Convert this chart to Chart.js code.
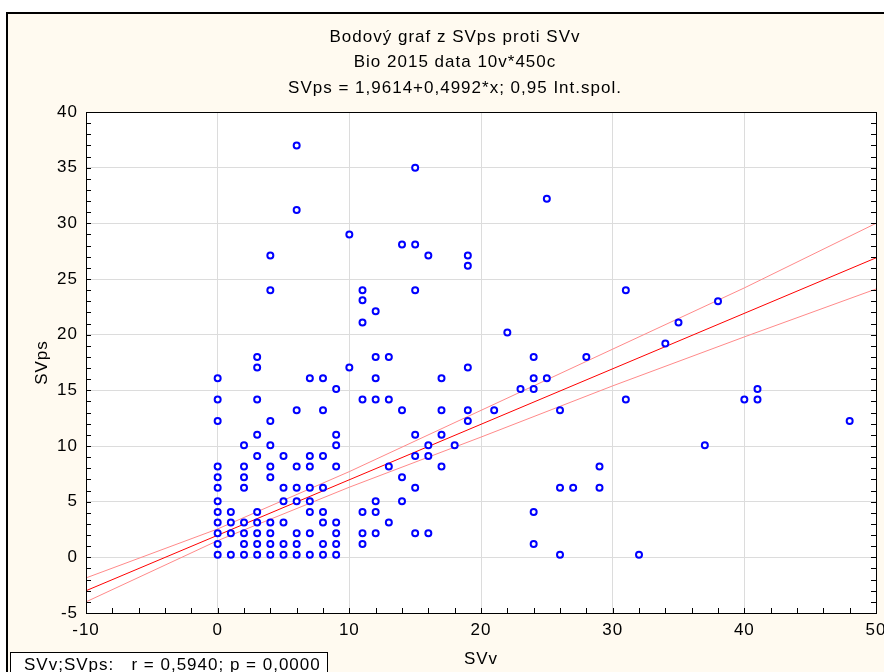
<!DOCTYPE html>
<html>
<head>
<meta charset="utf-8">
<script src="https://cdn.jsdelivr.net/npm/chart.js@4.4.1/dist/chart.umd.min.js"></script>
<style>
  html, body { margin: 0; padding: 0; background: #fff; }
  canvas { display: block; }
</style>
</head>
<body>
<canvas id="scatter" width="884" height="672"></canvas>
<script>
// titles and labels
const titleLines = ['Bodový graf z SVps proti SVv', 'Bio 2015 data 10v*450c', 'SVps = 1,9614+0,4992*x; 0,95 Int.spol.'];
const xTitle = 'SVv';
const yTitle = 'SVps';
const statsText = 'SVv;SVps:   r = 0,5940; p = 0,0000';

// scatter points (one line per row of points)
const svv = [
  0, 1, 2, 3, 4, 5, 6, 7, 8, 9, 26, 32,
  0, 2, 3, 4, 5, 6, 8, 9, 11, 24,
  0, 1, 2, 3, 4, 6, 7, 9, 11, 12, 15, 16,
  0, 1, 2, 3, 4, 5, 8, 9, 13,
  0, 1, 3, 7, 8, 11, 12, 24,
  0, 5, 6, 7, 12, 14,
  0, 2, 5, 6, 7, 8, 15, 26, 27, 29,
  0, 2, 4, 14,
  0, 2, 4, 6, 7, 9, 13, 17, 29,
  3, 5, 7, 8, 15, 16,
  2, 4, 9, 16, 18, 37,
  3, 9, 15, 17,
  0, 4, 19, 48,
  6, 8, 14, 17, 19, 21, 26,
  0, 3, 11, 12, 13, 31, 40, 41,
  9, 23, 24, 41,
  0, 7, 8, 12, 17, 24, 25,
  3, 10, 19,
  3, 12, 13, 24, 28,
  34, 22, 11, 35, 12, 38, 11, 4, 11, 15, 31, 19, 4, 16, 19, 14, 15, 10, 6, 25, 15, 6
];
const svps = [
  0.24, 0.24, 0.24, 0.24, 0.24, 0.24, 0.24, 0.24, 0.24, 0.24, 0.24, 0.24,
  1.2, 1.2, 1.2, 1.2, 1.2, 1.2, 1.2, 1.2, 1.2, 1.2,
  2.16, 2.16, 2.16, 2.16, 2.16, 2.16, 2.16, 2.16, 2.16, 2.16, 2.16, 2.16,
  3.12, 3.12, 3.12, 3.12, 3.12, 3.12, 3.12, 3.12, 3.12,
  4.08, 4.08, 4.08, 4.08, 4.08, 4.08, 4.08, 4.08,
  5.03, 5.03, 5.03, 5.03, 5.03, 5.03,
  6.24, 6.24, 6.24, 6.24, 6.24, 6.24, 6.24, 6.24, 6.24, 6.24,
  7.19, 7.19, 7.19, 7.19,
  8.15, 8.15, 8.15, 8.15, 8.15, 8.15, 8.15, 8.15, 8.15,
  9.1, 9.1, 9.1, 9.1, 9.1, 9.1,
  10.06, 10.06, 10.06, 10.06, 10.06, 10.06,
  11.02, 11.02, 11.02, 11.02,
  12.25, 12.25, 12.25, 12.25,
  13.2, 13.2, 13.2, 13.2, 13.2, 13.2, 13.2,
  14.17, 14.17, 14.17, 14.17, 14.17, 14.17, 14.17, 14.17,
  15.13, 15.13, 15.13, 15.13,
  16.08, 16.08, 16.08, 16.08, 16.08, 16.08, 16.08,
  17.04, 17.04, 17.04,
  18.0, 18.0, 18.0, 18.0, 18.0,
  19.2, 20.2, 21.1, 21.1, 22.1, 23.0, 23.1, 24.0, 24.0, 24.0, 24.0, 26.2, 27.1, 27.1, 27.1, 28.1, 28.1, 29.0, 31.2, 32.2, 35.0, 37.0
];

// regression line and 0,95 confidence band
const fitX = [-10, 50];
const fitY = [-3.0, 26.9];
const bandX = [-10, 0, 10, 20, 30, 40, 50];
const bandUpper = [-1.85, 2.55, 7.7, 13.2, 18.7, 24.2, 30.0];
const bandLower = [-4.0, 1.5, 6.3, 10.8, 15.4, 19.8, 24.1];

// axis ticks
const xMin = -10, xMax = 50, xStep = 10, xMinorStep = 2;
const yMin = -5, yMax = 40, yStep = 5, yMinorStep = 1;

const toXY = (xs, ys) => xs.map((x, i) => ({ x: x, y: ys[i] }));

const FONT = 'Liberation Sans, Arial, sans-serif';

// background, frame, minor ticks, titles and the r/p box
const decorations = {
  id: 'decorations',
  beforeDraw(chart) {
    const ctx = chart.ctx, a = chart.chartArea;
    ctx.save();
    ctx.fillStyle = '#ffffff';
    ctx.fillRect(0, 0, chart.width, chart.height);
    ctx.fillStyle = '#fffaf0';
    ctx.fillRect(8, 14, chart.width - 8, chart.height - 14);
    ctx.fillStyle = '#ffffff';
    ctx.fillRect(a.left, a.top, a.right - a.left, a.bottom - a.top);
    ctx.restore();
    ctx.letterSpacing = '1px';
  },
  afterDraw(chart) {
    const ctx = chart.ctx, a = chart.chartArea;
    const xs = chart.scales.x, ys = chart.scales.y;
    ctx.save();

    // outer frame (top and left edge only visible)
    ctx.strokeStyle = '#000';
    ctx.lineWidth = 2;
    ctx.beginPath();
    ctx.moveTo(7, chart.height);
    ctx.lineTo(7, 13);
    ctx.lineTo(chart.width, 13);
    ctx.stroke();

    // plot box
    ctx.lineWidth = 1;
    ctx.strokeRect(Math.round(a.left) + 0.5, Math.round(a.top) + 0.5,
      Math.round(a.right - a.left), Math.round(a.bottom - a.top));

    // minor ticks, pointing inward
    ctx.beginPath();
    for (let v = xMin; v <= xMax; v += xMinorStep) {
      const px = Math.round(xs.getPixelForValue(v)) + 0.5;
      ctx.moveTo(px, a.bottom);
      ctx.lineTo(px, a.bottom - 5);
    }
    for (let v = yMin; v <= yMax; v += yMinorStep) {
      const py = Math.round(ys.getPixelForValue(v)) + 0.5;
      ctx.moveTo(a.left, py);
      ctx.lineTo(a.left + 5, py);
      ctx.moveTo(a.right, py);
      ctx.lineTo(a.right - 5, py);
    }
    ctx.stroke();

    // titles
    ctx.fillStyle = '#000';
    ctx.font = '17px ' + FONT;
    ctx.textAlign = 'center';
    ctx.textBaseline = 'middle';
    ctx.letterSpacing = '1px';
    titleLines.forEach((t, i) => ctx.fillText(t, 455, 37 + i * 25.5));

    // statistics box
    ctx.fillStyle = '#ffffff';
    ctx.fillRect(10, 652, 317, 30);
    ctx.strokeRect(10.5, 652.5, 317, 30);
    ctx.fillStyle = '#000';
    ctx.textAlign = 'left';
    ctx.fillText(statsText, 24, 665);

    ctx.restore();
  }
};

new Chart(document.getElementById('scatter'), {
  type: 'scatter',
  data: {
    datasets: [
      {
        label: 'SVps',
        data: toXY(svv, svps),
        pointStyle: 'circle',
        pointRadius: 3,
        pointBorderWidth: 2,
        pointBorderColor: '#0000ff',
        pointBackgroundColor: '#ffffff',
        pointHoverRadius: 3
      },
      {
        type: 'line',
        label: 'fit',
        data: toXY(fitX, fitY),
        borderColor: '#ff0000',
        borderWidth: 1,
        pointRadius: 0,
        fill: false
      },
      {
        type: 'line',
        label: 'upper 0,95',
        data: toXY(bandX, bandUpper),
        borderColor: '#ff8a8a',
        borderWidth: 1,
        pointRadius: 0,
        fill: false
      },
      {
        type: 'line',
        label: 'lower 0,95',
        data: toXY(bandX, bandLower),
        borderColor: '#ff8a8a',
        borderWidth: 1,
        pointRadius: 0,
        fill: false
      }
    ]
  },
  options: {
    responsive: false,
    animation: false,
    events: [],
    layout: { padding: { top: 112, right: 8, left: 0, bottom: 0 } },
    plugins: {
      legend: { display: false },
      tooltip: { enabled: false }
    },
    scales: {
      x: {
        type: 'linear',
        min: xMin,
        max: xMax,
        ticks: { stepSize: xStep, padding: 7, color: '#000', font: { family: FONT, size: 17 } },
        grid: { color: '#dcdcdc', drawTicks: false },
        border: { color: '#000' },
        title: { display: true, text: xTitle, color: '#000', font: { family: FONT, size: 17 }, padding: { top: 0, bottom: 2 } },
        afterFit(s) { s.height = 59; s.paddingLeft = 0; s.paddingRight = 0; }
      },
      y: {
        type: 'linear',
        min: yMin,
        max: yMax,
        ticks: { stepSize: yStep, padding: 8, color: '#000', font: { family: FONT, size: 17 } },
        grid: { color: '#dcdcdc', drawTicks: false },
        border: { color: '#000' },
        title: { display: true, text: yTitle, color: '#000', font: { family: FONT, size: 17 }, padding: { top: 32, bottom: 0 } },
        afterFit(s) { s.width = 86; s.paddingTop = 0; s.paddingBottom = 0; }
      }
    }
  },
  plugins: [decorations]
});
</script>
</body>
</html>
